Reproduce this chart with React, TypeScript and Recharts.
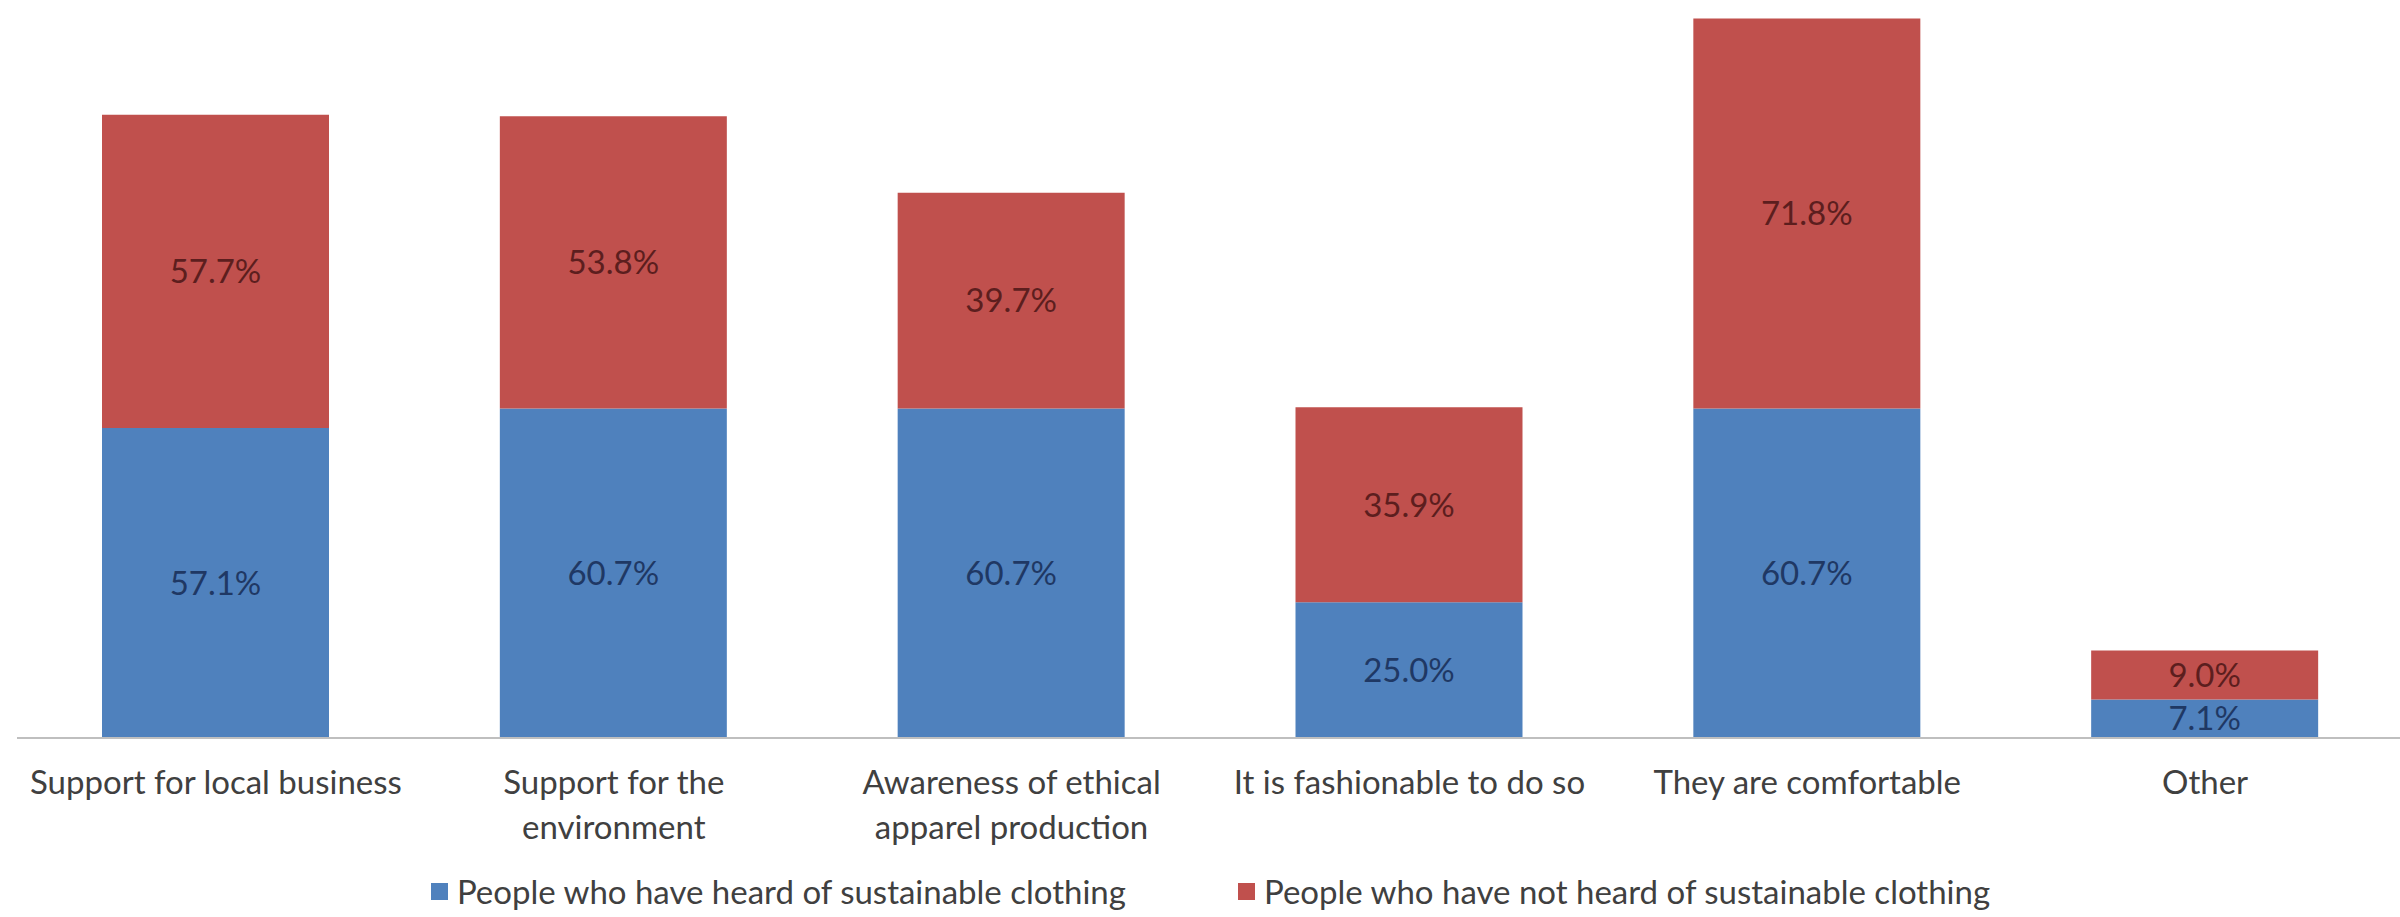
import { Bar, BarChart, LabelList, Legend, XAxis, YAxis } from "recharts";

const categorias = [
  "Support for local business",
  "Support for the\nenvironment",
  "Awareness of ethical\napparel production",
  "It is fashionable to do so",
  "They are comfortable",
  "Other",
];
const ouviram = [57.1, 60.7, 60.7, 25.0, 60.7, 7.1];
const naoOuviram = [57.7, 53.8, 39.7, 35.9, 71.8, 9.0];

const nomeOuviram = "People who have heard of sustainable clothing";
const nomeNaoOuviram = "People who have not heard of sustainable clothing";

const dados = categorias.map((c, i) => ({
  categoria: c,
  ouviram: ouviram[i],
  naoOuviram: naoOuviram[i],
}));

const fonte = "Lato, 'Open Sans', sans-serif";

function TickCategoria({ x, y, payload }: any) {
  const linhas = String(payload.value).split("\n");
  return (
    <text x={x} y={y} textAnchor="middle" fill="#404040" fontSize={33} fontFamily={fonte}>
      {linhas.map((l, i) => (
        <tspan key={i} x={x} dy={i === 0 ? 56 : 45}>
          {l}
        </tspan>
      ))}
    </text>
  );
}

function Legenda({ payload }: any) {
  return (
    <div
      style={{
        height: 46,
        display: "flex",
        justifyContent: "center",
        alignItems: "flex-start",
        fontFamily: fonte,
        fontSize: 33,
        color: "#404040",
      }}
    >
      {(payload || []).map((p: any, i: number) => (
        <div key={i} style={{ display: "flex", alignItems: "center", marginLeft: i > 0 ? 112 : 0 }}>
          <span style={{ width: 17, height: 17, background: p.color, marginRight: 9 }} />
          <span>{p.value}</span>
        </div>
      ))}
    </div>
  );
}

export default function App() {
  return (
    <div style={{ position: "absolute", left: 0, top: 0, width: 2400, height: 917, overflow: "hidden", background: "#fff" }}>
      <BarChart
        width={2404}
        height={917}
        data={dados}
        margin={{ top: 5, right: 0, bottom: 0, left: 17 }}
      >
        <XAxis
          dataKey="categoria"
          height={133}
          tickLine={false}
          tickSize={0}
          tickMargin={0}
          axisLine={{ stroke: "#bfbfbf", strokeWidth: 2 }}
          tick={<TickCategoria />}
          interval={0}
        />
        <YAxis hide domain={[0, 135]} />
        <Legend verticalAlign="bottom" content={<Legenda />} />
        <Bar dataKey="ouviram" name={nomeOuviram} stackId="a" fill="#4f81bd" barSize={227} isAnimationActive={false}>
          <LabelList
            dataKey="ouviram"
            position="center"
            formatter={(v: any) => `${Number(v).toFixed(1)}%`}
            fill="#1f3864"
            fontSize={33}
            fontFamily={fonte}
          />
        </Bar>
        <Bar dataKey="naoOuviram" name={nomeNaoOuviram} stackId="a" fill="#c0504d" barSize={227} isAnimationActive={false}>
          <LabelList
            dataKey="naoOuviram"
            position="center"
            formatter={(v: any) => `${Number(v).toFixed(1)}%`}
            fill="#5c1e1e"
            fontSize={33}
            fontFamily={fonte}
          />
        </Bar>
      </BarChart>
    </div>
  );
}
